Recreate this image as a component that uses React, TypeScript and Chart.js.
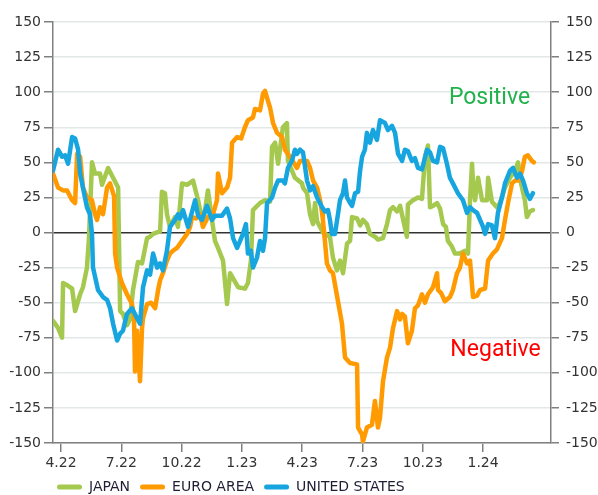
import React, { useEffect, useRef } from "react";
import { Chart, registerables } from "chart.js";

Chart.register(...registerables);

// x values are months since Jan 2022 (3 = Apr 2022, 12 = Jan 2023, 24 = Jan 2024)
const seriesNames = ["JAPAN", "EURO AREA", "UNITED STATES"];
const seriesColors = ["#A5C94F", "#FF9A00", "#16A5DE"];

const japan: [number, number][] = [
  [2.6, -63], [2.85, -68], [3.05, -75], [3.1, -36], [3.35, -38], [3.55, -40], [3.7, -56], [3.95, -44],
  [4.09, -39], [4.29, -25], [4.39, -4], [4.54, 50], [4.69, 42], [4.94, 42], [5.04, 34], [5.34, 46],
  [5.59, 39], [5.84, 32], [5.94, -56], [6.08, -58], [6.28, -66], [6.43, -62], [6.58, -41], [6.83, -21],
  [7.03, -22], [7.28, -4], [7.43, -3], [7.58, -1], [7.93, 1], [8.02, 29], [8.17, 28], [8.27, 13],
  [8.42, 4], [8.67, 11], [8.82, 4], [9.02, 35], [9.27, 34], [9.57, 37], [9.82, 23], [10.06, 6],
  [10.31, 30], [10.56, 4], [10.66, -6], [10.81, -11], [11.06, -20], [11.26, -51], [11.41, -29], [11.81, -39],
  [12.15, -40], [12.3, -36], [12.45, -20], [12.55, 16], [12.9, 21], [13.15, 23], [13.4, 22], [13.5, 61],
  [13.65, 64], [13.8, 49], [14.04, 75], [14.24, 78], [14.29, 51], [14.64, 39], [14.99, 35], [15.04, 32],
  [15.24, 28], [15.39, 13], [15.54, 6], [15.64, 21], [15.74, 8], [16.03, 0], [16.38, -3], [16.53, -18],
  [16.73, -27], [16.88, -20], [17.03, -29], [17.23, -8], [17.38, -6], [17.48, 11], [17.73, 10], [17.88, 5],
  [18.02, 9], [18.22, 6], [18.37, -1], [18.62, -3], [18.77, -5], [19.02, -4], [19.22, 6], [19.37, 16],
  [19.52, 18], [19.72, 15], [19.87, 19], [20.01, 10], [20.21, -3], [20.26, 20], [20.51, 23], [20.76, 25],
  [20.96, 24], [21.11, 54], [21.26, 62], [21.36, 18], [21.51, 19], [21.71, 21], [21.86, 17], [22.01, 6],
  [22.15, 4], [22.25, -6], [22.45, -10], [22.6, -15], [22.85, -15], [23.1, -13], [23.25, -15], [23.35, 23],
  [23.45, 49], [23.5, 35], [23.6, 23], [23.75, 39], [23.95, 23], [24.2, 23], [24.25, 39], [24.44, 22],
  [24.69, 18], [24.84, 21], [25.09, 32], [25.34, 39], [25.59, 44], [25.74, 50], [25.89, 35], [26.08, 23],
  [26.18, 11], [26.33, 15], [26.48, 16],
];

const euroArea: [number, number][] = [
  [2.6, 42], [2.85, 32], [3.1, 30], [3.3, 30], [3.55, 23], [3.7, 21], [3.8, 56], [3.95, 54],
  [4.09, 32], [4.29, 25], [4.54, 23], [4.69, 13], [4.79, 9], [4.94, 18], [5.09, 13], [5.29, 32],
  [5.44, 35], [5.59, 28], [5.64, 26], [5.69, -15], [5.79, -25], [6.03, -36], [6.28, -44], [6.53, -51],
  [6.63, -60], [6.68, -99], [6.78, -70], [6.93, -106], [7.03, -68], [7.08, -61], [7.28, -51], [7.48, -50],
  [7.68, -54], [7.83, -41], [7.93, -34], [8.07, -29], [8.27, -20], [8.42, -15], [8.57, -13], [8.77, -11],
  [9.02, -6], [9.27, -1], [9.42, 4], [9.52, 11], [9.72, 10], [9.92, 13], [10.06, 4], [10.31, 11],
  [10.56, 13], [10.76, 23], [10.81, 42], [11.01, 28], [11.26, 32], [11.41, 39], [11.51, 64], [11.76, 68],
  [11.96, 67], [12.15, 75], [12.3, 80], [12.55, 82], [12.65, 88], [12.9, 87], [13.05, 99], [13.15, 101],
  [13.25, 96], [13.4, 89], [13.55, 78], [13.75, 71], [14.0, 68], [14.14, 59], [14.39, 54], [14.74, 46],
  [14.89, 51], [15.24, 51], [15.39, 46], [15.54, 37], [15.74, 32], [15.89, 23], [15.99, 14], [16.03, 9],
  [16.13, -6], [16.23, -22], [16.38, -27], [16.53, -29], [16.78, -49], [16.98, -65], [17.13, -89], [17.38, -93],
  [17.73, -94], [17.78, -139], [17.98, -144], [18.02, -149], [18.22, -139], [18.47, -137], [18.62, -120], [18.77, -139],
  [18.87, -132], [19.02, -106], [19.22, -89], [19.37, -82], [19.52, -68], [19.72, -56], [19.87, -62], [19.97, -58],
  [20.11, -60], [20.26, -79], [20.46, -70], [20.61, -54], [20.76, -52], [20.96, -44], [21.11, -50], [21.26, -44],
  [21.51, -39], [21.71, -29], [21.76, -41], [21.91, -43], [22.1, -49], [22.35, -46], [22.5, -41], [22.7, -29],
  [22.85, -25], [23.0, -15], [23.2, -22], [23.35, -20], [23.5, -46], [23.7, -45], [23.85, -41], [24.1, -40],
  [24.25, -20], [24.49, -15], [24.69, -12], [24.94, -4], [25.09, 9], [25.24, 21], [25.44, 35], [25.59, 37],
  [25.79, 37], [25.94, 44], [26.08, 54], [26.23, 55], [26.43, 51], [26.53, 50],
];

const unitedStates: [number, number][] = [
  [2.6, 44], [2.85, 59], [3.05, 54], [3.2, 55], [3.35, 49], [3.55, 68], [3.7, 67], [3.85, 59],
  [3.95, 42], [4.09, 32], [4.29, 18], [4.44, 13], [4.54, -1], [4.59, -25], [4.84, -41], [5.09, -46],
  [5.29, -48], [5.44, -54], [5.59, -65], [5.79, -77], [5.94, -72], [6.08, -70], [6.28, -58], [6.53, -54],
  [6.78, -61], [6.93, -65], [7.08, -39], [7.28, -27], [7.43, -30], [7.58, -15], [7.78, -25], [7.93, -22],
  [8.07, -27], [8.27, -13], [8.42, 4], [8.67, 9], [8.82, 13], [8.92, 10], [9.07, 16], [9.32, 4],
  [9.67, 23], [9.82, 12], [10.01, 9], [10.26, 19], [10.51, 9], [10.66, 12], [11.01, 12], [11.26, 17],
  [11.41, 10], [11.56, -4], [11.76, -11], [11.91, -6], [12.05, -1], [12.2, 6], [12.3, -15], [12.45, -13],
  [12.55, -25], [12.75, -18], [12.9, -6], [13.05, -13], [13.15, -4], [13.25, 21], [13.5, 25], [13.65, 32],
  [13.8, 37], [14.04, 37], [14.14, 35], [14.29, 46], [14.49, 51], [14.64, 59], [14.74, 56], [14.89, 59],
  [15.04, 57], [15.24, 37], [15.39, 30], [15.54, 33], [15.74, 25], [15.99, 18], [16.13, 15], [16.28, 16],
  [16.38, 9], [16.48, -1], [16.63, -1], [16.78, 13], [16.88, 23], [17.03, 28], [17.13, 37], [17.23, 25],
  [17.38, 21], [17.48, 19], [17.63, 28], [17.78, 29], [17.88, 44], [17.98, 54], [18.12, 59], [18.22, 71],
  [18.37, 64], [18.52, 73], [18.72, 66], [18.87, 80], [19.12, 78], [19.27, 73], [19.47, 76], [19.62, 71],
  [19.77, 56], [19.97, 51], [20.11, 59], [20.26, 58], [20.46, 51], [20.61, 53], [20.76, 46], [20.96, 45],
  [21.21, 59], [21.36, 57], [21.51, 51], [21.71, 50], [21.86, 61], [22.01, 60], [22.2, 49], [22.35, 39],
  [22.5, 35], [22.75, 28], [23.0, 23], [23.2, 14], [23.35, 18], [23.5, 16], [23.7, 14], [23.85, 9],
  [24.0, 4], [24.1, -1], [24.25, 6], [24.44, 5], [24.59, -4], [24.74, 14], [24.94, 25], [25.09, 35],
  [25.34, 44], [25.49, 46], [25.69, 39], [25.84, 42], [25.99, 37], [26.18, 28], [26.33, 24], [26.48, 28],
];

const seriesData = [japan, euroArea, unitedStates];

const xTickMonths = [3, 6, 9, 12, 15, 18, 21, 24];
const xTickLabels = ["4.22", "7.22", "10.22", "1.23", "4.23", "7.23", "10.23", "1.24"];
const xRange = [2.6, 27.38];
const yRange = [-150, 150];
const yStep = 25;

const noteTexts = ["Positive", "Negative"];
const noteColors = ["#22B14C", "#FF0000"];
const noteAnchors: [number, number][] = [
  [24.32, 96],
  [24.62, -84],
];

const FONT = "'DejaVu Sans', sans-serif";
const AXIS_GRAY = "#808080";
const LEGEND_SHIFT = 6;

const notesPlugin = {
  id: "notes",
  afterDatasetsDraw(chart: any) {
    const { ctx, scales } = chart;
    const x = scales.x;
    const y = scales.y;
    ctx.save();
    ctx.font = "23px Roboto";
    ctx.textAlign = "center";
    ctx.textBaseline = "middle";
    noteTexts.forEach((t, i) => {
      ctx.fillStyle = noteColors[i];
      ctx.fillText(t, x.getPixelForValue(noteAnchors[i][0]), y.getPixelForValue(noteAnchors[i][1]));
    });
    ctx.restore();
  },
};

const legendShiftPlugin = {
  id: "legendShift",
  afterLayout(chart: any) {
    if (chart.legend) {
      chart.legend.left -= LEGEND_SHIFT;
      chart.legend.right -= LEGEND_SHIFT;
    }
  },
};

export default function App() {
  const canvasRef = useRef<HTMLCanvasElement | null>(null);

  useEffect(() => {
    if (!canvasRef.current) return;
    const chart = new Chart(canvasRef.current, {
      type: "line",
      data: {
        datasets: seriesNames.map((name, i) => ({
          label: name,
          data: seriesData[i].map(([x, y]) => ({ x, y })),
          borderColor: seriesColors[i],
          backgroundColor: seriesColors[i],
          borderWidth: 4.5,
          pointRadius: 0,
          tension: 0,
          borderJoinStyle: "round" as const,
          borderCapStyle: "round" as const,
          order: seriesNames.length - i,
        })),
      },
      options: {
        animation: false,
        responsive: false,
        devicePixelRatio: 1,
        layout: { padding: { left: 0, right: 0, top: 22, bottom: -9 } },
        plugins: {
          tooltip: { enabled: false },
          legend: {
            position: "bottom",
            align: "start",
            fullSize: false,
            labels: {
              boxWidth: 25,
              boxHeight: 5,
              padding: 10,
              color: "#1F1F33",
              font: { family: FONT, size: 14 },
              sort: (a: any, b: any) => a.datasetIndex - b.datasetIndex,
              generateLabels: (c: any) =>
                (Chart.defaults.plugins.legend.labels.generateLabels as any)(c).map((l: any) => ({
                  ...l,
                  lineWidth: 0,
                  borderRadius: 2.5,
                })),
            },
          },
        },
        scales: {
          x: {
            type: "linear",
            min: xRange[0],
            max: xRange[1],
            afterBuildTicks: (scale: any) => {
              scale.ticks = xTickMonths.map((v) => ({ value: v }));
            },
            afterFit: (scale: any) => {
              scale.height = 27;
            },
            ticks: {
              autoSkip: false,
              maxRotation: 0,
              padding: 3,
              color: "#333",
              font: { family: FONT, size: 14 },
              callback: (v: any) => {
                const idx = xTickMonths.indexOf(Number(v));
                return idx >= 0 ? xTickLabels[idx] : "";
              },
            },
            grid: {
              drawOnChartArea: false,
              drawTicks: true,
              tickLength: 9,
              tickColor: AXIS_GRAY,
              lineWidth: 1.5,
            },
            border: { display: true, color: AXIS_GRAY, width: 1.5 },
          },
          y: {
            type: "linear",
            position: "left",
            min: yRange[0],
            max: yRange[1],
            afterFit: (scale: any) => {
              scale.width = 53;
            },
            ticks: {
              stepSize: yStep,
              padding: 3,
              color: "#333",
              font: { family: FONT, size: 14 },
            },
            grid: {
              drawTicks: true,
              tickLength: 9,
              tickColor: AXIS_GRAY,
              lineWidth: 1.5,
              color: (ctx: any) => (ctx.tick && ctx.tick.value === 0 ? "#333333" : "#E2E8E8"),
            },
            border: { display: true, color: AXIS_GRAY, width: 1.5 },
          },
          y2: {
            type: "linear",
            position: "right",
            min: yRange[0],
            max: yRange[1],
            afterFit: (scale: any) => {
              scale.width = 47;
            },
            ticks: {
              stepSize: yStep,
              padding: 7,
              color: "#333",
              font: { family: FONT, size: 14 },
            },
            grid: {
              drawOnChartArea: false,
              drawTicks: true,
              tickLength: 8,
              tickColor: AXIS_GRAY,
              lineWidth: 1.5,
            },
            border: { display: true, color: AXIS_GRAY, width: 1.5 },
          },
        },
      },
      plugins: [notesPlugin, legendShiftPlugin],
    });
    return () => chart.destroy();
  }, []);

  return (
    <div style={{ position: "fixed", left: 0, top: 0, width: 598, height: 495, background: "#fff" }}>
      <canvas ref={canvasRef} width={598} height={495} style={{ display: "block" }} />
    </div>
  );
}
